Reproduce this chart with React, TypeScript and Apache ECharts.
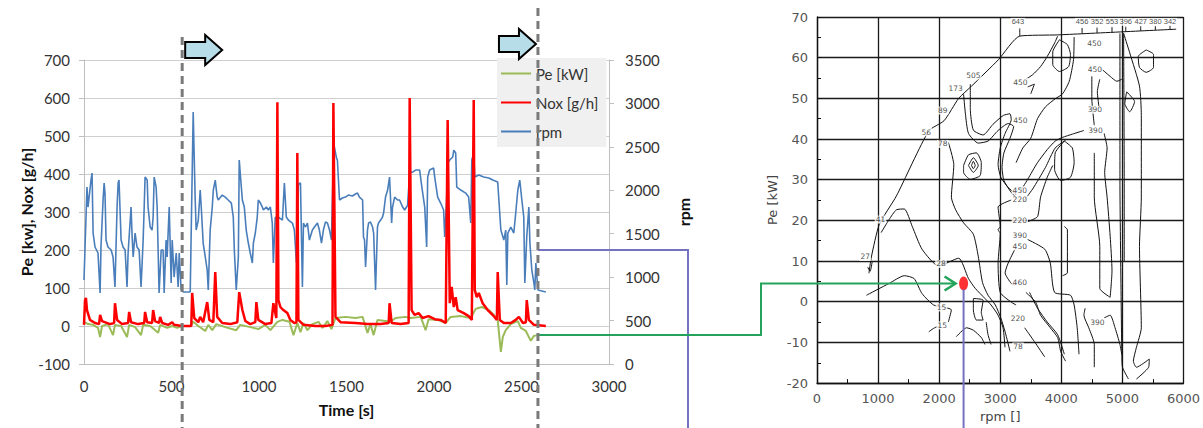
import React, { useEffect, useRef } from "react";
import * as echarts from "echarts";

// ---------- Left chart: time series (time [s], value) ----------
const rpmData: number[][] = [
  [0,967],[17,2037],[23,1807],[40,2118],[46,2198],[52,1508],[63,1347],[80,1278],[92,817],[97,1347],[109,1888],[115,2083],[120,1968],[126,1427],[137,1347],[155,1312],[166,1232],[177,886],[189,1807],[195,2083],[200,2118],[212,1427],[223,1347],[235,1312],[246,886],[252,1278],[269,1807],[275,1462],[281,1232],[292,1508],[303,1347],[315,1312],[326,886],[338,1427],[344,1807],[349,2152],[361,2118],[366,1807],[378,1577],[389,1542],[395,1692],[401,2152],[412,2037],[418,1807],[429,817],[441,1312],[452,1312],[458,817],[469,1427],[475,1232],[487,1807],[498,932],[504,1427],[515,1001],[527,1278],[538,886],[544,1278],[555,852],[567,829],[607,829],
  [624,2900],[635,1922],[641,1542],[653,1657],[664,2003],[670,1807],[681,1393],[693,1232],[704,1082],[710,852],[721,1542],[733,1807],[739,2003],[750,2118],[761,1922],[767,1888],[790,1945],[807,1922],[824,1888],[842,1853],[853,1692],[859,1312],[870,852],[882,1232],[887,2348],[899,2037],[905,1888],[916,1807],[927,1542],[939,1393],[950,1278],[962,1163],[968,1393],[979,1508],[990,1692],[996,1888],[1008,1853],[1019,1807],[1025,1773],[1042,1807],[1053,1773],[1065,1807],[1076,1623],[1082,1163],[1093,1692],[1105,1657],[1111,1692],[1134,1657],[1145,2083],[1156,1692],[1168,1657],[1191,1623],[1202,1542],[1214,1163],[1225,2072],[1237,2083],[1248,886],[1254,1623],[1265,1577],[1277,1623],[1288,1427],[1305,1542],[1317,1577],[1334,1623],[1345,1542],[1357,1393],[1368,1542],[1380,1634],[1391,1623],[1403,1542],[1414,1427],
  [1425,2383],[1431,2498],[1443,2371],[1448,2348],[1460,1888],[1477,1911],[1494,1922],[1511,1945],[1534,1934],[1551,1957],[1563,1968],[1574,1922],[1592,1888],[1597,1462],[1603,1427],[1609,1116],[1620,1542],[1626,1623],[1637,1634],[1649,1577],[1655,1508],[1666,852],[1677,1577],[1683,1623],[1695,1657],[1706,1692],[1712,1738],[1723,1922],[1735,2003],[1746,2152],[1758,1623],[1763,1807],[1775,1922],[1792,1888],[1803,1888],[1821,1807],[1832,1773],[1843,1807],[1849,1830],
  [1861,2198],[1878,2210],[1895,2233],[1918,2233],[1929,2060],[1947,1807],[1958,1347],[1964,2152],[1975,2233],[1998,2256],[2004,2152],[2021,1922],[2038,1853],[2055,1773],[2061,1462],[2072,1888],[2078,2314],[2090,2348],[2107,2383],[2113,2463],[2124,2429],[2130,2037],[2153,2003],[2181,1968],[2198,1922],[2210,1623],[2216,2348],[2227,2429],[2233,2152],[2256,2175],[2284,2152],[2313,2141],[2336,2118],[2364,2095],[2382,1542],[2399,1427],[2410,1542],[2416,909],[2422,1508],[2439,1577],[2456,1508],[2467,1738],[2479,2003],[2490,2118],[2502,1888],[2513,1692],[2519,932],[2530,1462],[2542,1807],[2548,1393],[2559,1082],[2571,932],[2576,852],[2582,1163],[2594,852],[2639,829]
];

const noxData: number[][] = [
  [0,3],[6,68],[11,74],[17,42],[34,16],[63,8],[86,5],[92,29],[103,13],[149,5],[172,8],[177,60],[189,16],[218,5],[252,8],[258,37],[269,10],[309,5],[344,8],[349,37],[361,10],[389,8],[395,42],[406,13],[429,8],[435,24],[447,8],[481,3],[504,10],[515,3],[561,0],[613,0],
  [618,87],[630,21],[653,10],[664,24],[681,10],[704,63],[716,16],[739,10],[750,142],[761,24],[790,8],[836,5],[876,10],[887,89],[905,42],[922,13],[950,5],[979,10],[985,63],[996,16],[1036,5],[1071,8],[1082,60],[1099,21],[1105,589],[1111,68],[1122,50],[1139,42],[1162,34],[1179,16],[1202,8],[1214,10],[1219,455],[1225,16],[1254,3],[1322,0],[1380,0],[1420,3],
  [1425,587],[1437,24],[1466,10],[1551,8],[1620,5],[1695,5],[1741,8],[1746,60],[1758,8],[1809,5],[1855,8],[1861,600],[1872,42],[1889,29],[1912,34],[1935,21],[1969,26],[2004,18],[2038,16],[2067,8],[2078,542],[2090,60],[2101,103],[2113,50],[2124,76],[2135,42],[2170,34],[2198,26],[2216,16],[2227,595],[2233,95],[2244,76],[2256,87],[2278,60],[2307,42],[2336,29],[2359,16],[2364,142],[2376,16],[2399,8],[2439,8],[2467,16],[2485,24],[2508,8],[2525,10],[2530,68],[2542,16],[2571,3],[2639,0]
];

const peData: number[][] = [
  [0,11],[23,5],[52,3],[80,-5],[92,-29],[103,0],[137,5],[166,-24],[177,3],[212,0],[246,-29],[258,3],[292,-3],[326,-24],[338,3],[378,0],[424,-18],[435,3],[475,-5],[504,0],[532,-5],[561,0],[607,0],
  [624,11],[653,0],[693,-13],[710,3],[733,-11],[756,5],[807,-3],[870,-11],[893,3],[950,-3],[996,-8],[1036,3],[1065,-11],[1105,11],[1134,16],[1174,11],[1197,-24],[1219,8],[1237,-16],[1254,8],[1277,-11],[1305,5],[1340,11],[1363,-5],[1391,13],[1414,-8],
  [1437,21],[1494,24],[1551,21],[1592,24],[1620,-18],[1637,5],[1655,-24],[1677,16],[1723,13],[1752,11],[1780,21],[1838,24],[1867,21],[1924,24],[1952,-11],[1969,18],[2021,16],[2067,8],[2095,24],[2153,26],[2210,21],[2238,45],[2273,50],[2313,42],[2342,29],[2364,16],[2382,-68],[2393,-29],[2410,-11],[2439,5],[2479,13],[2496,-5],[2525,-13],[2553,-39],[2571,-26],[2594,-24]
];

// marker times (dashed lines) and connector levels
const markerTimes = [561, 2594];
const connectorRpm = 1312;
const connectorPe = -24;

// ---------- Right chart: engine map (rpm, Pe [kW]) ----------
const operatingPoint = [2400, 4.5];

const cFullLoad = [[850,7],[890,11],[1020,19],[1300,26],[1830,42],[2080,44.5],[2320,50],[2530,53],[2970,59.5],[3320,65.3],[3940,65.6],[5880,67]];
const c28 = [[1050,17],[1180,20.2],[1300,22.6],[1430,22.8],[1560,18.5],[1720,12.9],[1990,8.8],[2320,10.7],[2480,5.7],[2590,3.3],[2750,0.8],[2850,-0.8],[2965,-3.3],[3046,-6.4],[3078,-11.2]];
const c78 = [[2150,39.2],[2240,33.7],[2200,25.7],[2270,22.6],[2400,19.4],[2560,16.6],[2640,11.2],[2710,4.7],[2800,1.6],[2920,-0.8],[3010,-4],[3080,-7.4],[3160,-12.2]];
const c15 = [[810,1.6],[1180,4.5],[1430,6.4],[1590,5.7],[1720,2],[1910,-0.8],[2200,-2],[2150,-5]];
const c15b = [[1830,-7.4],[1960,-6.2],[2040,-6.4]];
const cArc = [[2280,-8.6],[2450,-6.4],[2560,-7],[2690,-8.8],[2750,-10.5]];
const cLoopSmall = [[2560,0.8],[2720,0.4],[2690,-2.7],[2720,-4.5],[2610,-4.5],[2560,-2],[2560,0.8]];
const cE = [[2770,-5],[2800,-8.1],[2850,-10.5]];
const c33a = [[2400,33.5],[2480,36.1],[2610,36.6],[2690,34.2],[2670,31],[2510,30.1],[2400,31.8],[2400,33.5]];
const c33b = [[2480,33.5],[2560,35.4],[2640,33.5],[2560,31.8],[2480,33.5]];
const c33c = [[2530,33.5],[2560,34.5],[2590,33.5],[2560,32.7],[2530,33.5]];
const c505 = [[2510,53.5],[2510,47.5],[2560,42.2],[2720,41],[2880,43.6],[3050,45.8],[3160,46.2],[3180,44.8],[3080,41.4],[3000,37.8],[2965,33.7],[3010,30.6],[3130,28.1],[3260,26.4]];
const c173 = [[2400,51],[2430,46.2],[2480,41.4],[2640,39],[2800,39.5],[2965,42.1],[3130,43.8],[3220,43.1],[3160,40.2],[3060,36.6],[3030,33],[3060,29.8],[3180,26.9],[3290,25.2]];
const c450top = [[3940,65.3],[3890,63.6],[3770,60.3],[3660,57.8],[3530,55.8],[3420,54.7]];
const cHook = [[3450,52.8],[3560,53.5],[3500,51.1]];
const cOval1 = [[3970,64.4],[4100,63.2],[4150,60.8],[4120,57.8],[3970,56.6],[3860,58.3],[3860,61.4],[3970,64.4]];
const cLong = [[4210,65.1],[4200,59.5],[4130,54.2],[4020,51.1],[3900,49.9],[3740,47.9],[3610,45],[3500,40.2],[3370,37.8],[3260,34.2]];
const cBig1 = [[3320,26.9],[3450,30.1],[3610,34.2],[3770,37.4],[3900,39.5],[4020,40.4],[4180,41.2],[4370,42.1]];
const cBig2 = [[3370,24.5],[3530,27.7],[3740,33],[3900,37.8],[4070,39.7]];
const cOval2 = [[4050,39.5],[4180,37.8],[4210,34.2],[4150,30.6],[3990,29.8],[3890,32.5],[3900,36.6],[4050,39.5]];
const cV390 = [[4500,55.4],[4500,49.9],[4540,43.4]];
const c450r = [[4630,57.6],[4800,55.4],[4910,54.2],[4990,54.7]];
const c450r2 = [[4630,54.7],[4590,51.6],[4620,47.5]];
const cV1 = [[4540,36.6],[4540,25.7],[4630,13.6],[4630,3.3],[4800,1.1]];
const cV2 = [[4700,41.4],[4750,37.8],[4710,31.8],[4750,25.7],[4800,16.1],[4830,7.6],[4800,1.1]];
const cV3 = [[4960,66],[4960,30],[4980,0],[4990,-12],[5000,-16],[5100,-19]];
const cV4 = [[5020,66],[5030,30],[5030,10]];
const cRight = [[5020,66],[5120,61.2],[5280,53],[5310,45.8],[5310,25.7],[5280,13.6],[5310,-6.4],[5230,-11.2],[5180,-14.6],[5230,-16.1],[5440,-14.1],[5430,-16.1],[5230,-19]];
const cOval3 = [[5390,61.9],[5510,60.8],[5510,57.6],[5390,56.4],[5280,57.6],[5260,60.3],[5390,61.9]];
const cDiamond = [[5070,51.6],[5200,49.2],[5120,46.7],[5040,48.7],[5070,51.6]];
const c220b = [[3450,19.7],[3610,20.9],[3660,25.7],[3770,30.6],[3860,33.5]];
const c390450 = [[3240,12.9],[3130,9.5],[3080,7.1],[3180,4.5],[3240,4]];
const cD1 = [[3180,25],[2965,23.3],[3000,18.5],[2965,17.7],[3000,16.8],[2965,9.5],[3000,2.3],[3180,-0.1],[3260,-0.8]];
const cD2 = [[3450,15.3],[3730,12.9],[3820,9.5],[3890,2.3],[4150,1.6],[4210,-0.8],[4260,-6.4],[4290,-12.9]];
const cD3 = [[3420,2.3],[3580,-0.1],[3660,-3.3],[3820,-6.4],[3940,-8.8],[3990,-12.2],[4070,-14.6]];
const cD4 = [[3480,2.3],[3610,-1.6],[3770,-5],[3940,-8.1],[4050,-12.9]];
const cD5 = [[3400,-6.4],[3560,-9.8],[3730,-13.6]];
const cParen = [[4050,18.5],[4100,17.7],[4100,7.1],[4020,6.4]];
const c390r1 = [[4390,-1.6],[4370,-3.3],[4450,-6.4],[4540,-10.5],[4540,-16.1]];
const c390r2 = [[4700,-4],[4800,-3.3],[4880,-6.4],[4960,-10.5],[4990,-12.9]];
const cYmark = [[830,8.5],[870,7.5],[905,10]];
const leaders = [
  [[3320,65.3],[3320,67.2]],[[4340,65.9],[4340,67.3]],[[4585,66.1],[4585,67.4]],[[4830,66.2],[4830,67.5]],
  [[5055,66.4],[5055,67.6]],[[5300,66.6],[5300,67.7]],[[5540,66.8],[5540,67.8]],[[5780,66.95],[5780,67.9]]
];

const contours = [
  cFullLoad, c28, c78, c15, c15b, cArc, cLoopSmall, cE, c33a, c33b, c33c, c505, c173, c450top, cHook,
  cOval1, cLong, cBig1, cBig2, cOval2, cV390, c450r, c450r2, cV1, cV2, cV3, cV4, cRight, cOval3, cDiamond,
  c220b, c390450, cD1, cD2, cD3, cD4, cD5, cParen, c390r1, c390r2, cYmark, ...leaders
];

const topLabelText = ["643","456","352","553","396","427","380","342"];
const topLabelRpm = [3290,4340,4585,4830,5055,5300,5540,5780];
const topLabelPe = [68.8,68.8,68.8,68.8,68.8,68.8,68.8,68.8];

const contourLabelText = ["505","173","89","56","78","41","27","28","15","15","450","450","450","450","390","390","450","220","220","390","450","460","220","78","390"];
const contourLabelRpm = [2560,2270,2060,1790,2060,1040,790,2030,2040,2050,3330,4540,4550,3330,4550,4560,3320,3320,3320,3320,3320,3320,3290,3290,4590];
const contourLabelPe = [55.6,52.3,47,41.7,38.8,20.2,11,9.3,-1.4,-5.8,54,63.6,57,44.6,47.2,42.1,27.4,25.1,20,16.4,13.6,4.7,-4.2,-11,-5];

const leftFont = "Lato, 'Open Sans', sans-serif";
const mapFont = "'DejaVu Sans', sans-serif";
const plain = (v: number) => String(v);

export default function App() {
  const ref = useRef<HTMLDivElement>(null);

  useEffect(() => {
    const chart = echarts.init(ref.current as HTMLDivElement, null, { renderer: "svg" });

    const contourSeries = contours.map((c) => ({
      type: "line",
      xAxisIndex: 1,
      yAxisIndex: 2,
      data: c,
      symbol: "none",
      showSymbol: false,
      smooth: 0.2,
      silent: true,
      lineStyle: { color: "#111", width: 1 },
      z: 3,
    }));

    const mkLabels = (txt: string[], rpm: number[], pe: number[], font: string, size: number) => ({
      type: "scatter",
      xAxisIndex: 1,
      yAxisIndex: 2,
      symbolSize: 0,
      silent: true,
      z: 5,
      data: txt.map((t, i) => ({ name: t, value: [rpm[i], pe[i]] })),
      label: {
        show: true,
        position: "inside",
        formatter: "{b}",
        fontSize: size,
        fontFamily: font,
        color: "#222",
        backgroundColor: "#fff",
        padding: [0, 1],
      },
    });

    const option: any = {
      animation: false,
      backgroundColor: "#fff",
      grid: [
        { left: 84, top: 60, width: 525, height: 304 },
        { left: 817, top: 17, width: 370, height: 372 },
      ],
      legend: {
        data: ["Pe [kW]", "Nox [g/h]", "rpm"],
        orient: "vertical",
        left: 497,
        top: 58,
        backgroundColor: "#f0f0f0",
        padding: [8, 8, 8, 3],
        itemGap: 14,
        itemWidth: 30,
        itemHeight: 16,
        itemStyle: { opacity: 0 },
        textStyle: { fontFamily: leftFont, fontSize: 15, color: "#333" },
      },
      xAxis: [
        {
          type: "value", gridIndex: 0, min: 0, max: 3000, interval: 500,
          axisLine: { show: true, onZero: false, lineStyle: { color: "#bfbfbf", width: 1 } },
          axisTick: { show: false },
          splitLine: { show: false },
          axisLabel: { fontFamily: leftFont, fontSize: 15, color: "#333", margin: 14, formatter: plain },
          name: "Time [s]", nameLocation: "middle", nameGap: 37,
          nameTextStyle: { fontFamily: leftFont, fontSize: 16, fontWeight: "bold", color: "#111" },
        },
        {
          type: "value", gridIndex: 1, min: 0, max: 6000, interval: 1000,
          axisLine: { show: true, onZero: false, lineStyle: { color: "#111", width: 1.3 } },
          axisTick: { show: true, inside: true, length: 5, lineStyle: { color: "#111" } },
          minorTick: { show: true, splitNumber: 2, length: 4, lineStyle: { color: "#111" } },
          splitLine: { show: true, lineStyle: { color: "#1a1a1a", width: 1.3 } },
          axisLabel: { fontFamily: mapFont, fontSize: 13, color: "#555", margin: 9, formatter: plain },
          name: "rpm []", nameLocation: "middle", nameGap: 24,
          nameTextStyle: { fontFamily: mapFont, fontSize: 13, color: "#444" },
        },
      ],
      yAxis: [
        {
          type: "value", gridIndex: 0, min: -100, max: 700, interval: 100, position: "left",
          axisLine: { show: true, onZero: false, lineStyle: { color: "#bfbfbf" } },
          axisTick: { show: true, length: 5, lineStyle: { color: "#bfbfbf" } },
          splitLine: { show: true, lineStyle: { color: "#cfcfcf", width: 1 } },
          axisLabel: { fontFamily: leftFont, fontSize: 15, color: "#333", margin: 14, formatter: plain },
          name: "Pe [kw], Nox [g/h]", nameLocation: "middle", nameGap: 46, nameRotate: 90,
          nameTextStyle: { fontFamily: leftFont, fontSize: 16, fontWeight: "bold", color: "#111" },
        },
        {
          type: "value", gridIndex: 0, min: 0, max: 3500, interval: 500, position: "right",
          axisLine: { show: true, onZero: false, lineStyle: { color: "#bfbfbf" } },
          axisTick: { show: true, length: 5, lineStyle: { color: "#bfbfbf" } },
          splitLine: { show: false },
          axisLabel: { fontFamily: leftFont, fontSize: 15, color: "#333", margin: 16, formatter: plain },
          name: "rpm", nameLocation: "middle", nameGap: 66, nameRotate: 90,
          nameTextStyle: { fontFamily: leftFont, fontSize: 16, fontWeight: "bold", color: "#111" },
        },
        {
          type: "value", gridIndex: 1, min: -20, max: 70, interval: 10,
          axisLine: { show: true, onZero: false, lineStyle: { color: "#111", width: 1.3 } },
          axisTick: { show: true, inside: true, length: 5, lineStyle: { color: "#111" } },
          minorTick: { show: true, splitNumber: 2, length: 4, lineStyle: { color: "#111" } },
          splitLine: { show: true, lineStyle: { color: "#1a1a1a", width: 1.3 } },
          axisLabel: { fontFamily: mapFont, fontSize: 13, color: "#555", margin: 9, formatter: plain },
          name: "Pe [kW]", nameLocation: "middle", nameGap: 38, nameRotate: 90,
          nameTextStyle: { fontFamily: mapFont, fontSize: 13, color: "#444" },
        },
      ],
      series: [
        {
          name: "rpm", type: "line", xAxisIndex: 0, yAxisIndex: 1, data: rpmData,
          symbol: "none", showSymbol: false,
          lineStyle: { color: "#4a7ebb", width: 1.6 }, itemStyle: { color: "#4a7ebb" }, z: 2,
        },
        {
          name: "Pe [kW]", type: "line", xAxisIndex: 0, yAxisIndex: 0, data: peData,
          symbol: "none", showSymbol: false,
          lineStyle: { color: "#9bbb59", width: 2 }, itemStyle: { color: "#9bbb59" }, z: 3,
        },
        {
          name: "Nox [g/h]", type: "line", xAxisIndex: 0, yAxisIndex: 0, data: noxData,
          symbol: "none", showSymbol: false,
          lineStyle: { color: "#ff0000", width: 2.5 }, itemStyle: { color: "#ff0000" }, z: 4,
        },
        {
          name: "operating point", type: "scatter", xAxisIndex: 1, yAxisIndex: 2,
          data: [operatingPoint], symbol: "circle", symbolSize: [9, 14],
          itemStyle: { color: "#ff0000" }, z: 10, silent: true,
        },
        mkLabels(topLabelText, topLabelRpm, topLabelPe, "'Liberation Sans', sans-serif", 7.5),
        mkLabels(contourLabelText, contourLabelRpm, contourLabelPe, mapFont, 7.5),
        ...contourSeries,
      ],
    };

    chart.setOption(option);

    // annotation geometry derived from the axes
    const dashX = markerTimes.map((t) => (chart.convertToPixel({ seriesIndex: 2 }, [t, 0]) as number[])[0]);
    const purpleStart = chart.convertToPixel({ seriesIndex: 0 }, [markerTimes[1], connectorRpm]) as number[];
    const greenStart = chart.convertToPixel({ seriesIndex: 1 }, [markerTimes[1], connectorPe]) as number[];
    const dot = chart.convertToPixel({ seriesIndex: 3 }, operatingPoint) as number[];

    const arrow = (tailX: number, cy: number) => ({
      type: "polygon",
      z: 100,
      shape: {
        points: [
          [tailX, cy - 8], [tailX + 20, cy - 8], [tailX + 20, cy - 15], [tailX + 37, cy],
          [tailX + 20, cy + 15], [tailX + 20, cy + 8], [tailX, cy + 8],
        ],
      },
      style: { fill: "#b7dde8", stroke: "#000", lineWidth: 2 },
    });

    const purple = "#7672c2";
    const green = "#24a35a";
    const purpleCornerX = 688;
    const greenCornerX = 761;

    chart.setOption({
      graphic: [
        { type: "line", z: 100, shape: { x1: dashX[0], y1: 37, x2: dashX[0], y2: 428 }, style: { stroke: "#7a7a7a", lineWidth: 3, lineDash: [8, 5] } },
        { type: "line", z: 100, shape: { x1: dashX[1], y1: 8, x2: dashX[1], y2: 428 }, style: { stroke: "#7a7a7a", lineWidth: 3, lineDash: [8, 5] } },
        arrow(dashX[0] + 3, 50),
        arrow(dashX[1] - 39, 44),
        {
          type: "polyline", z: 50,
          shape: { points: [[purpleStart[0], purpleStart[1]], [purpleCornerX, purpleStart[1]], [purpleCornerX, 428]] },
          style: { stroke: purple, lineWidth: 2, fill: null },
        },
        {
          type: "line", z: 50,
          shape: { x1: dot[0], y1: dot[1] + 6, x2: dot[0], y2: 428 },
          style: { stroke: purple, lineWidth: 2 },
        },
        {
          type: "polyline", z: 50,
          shape: { points: [[greenStart[0], greenStart[1]], [greenCornerX, greenStart[1]], [greenCornerX, dot[1]], [dot[0] - 8, dot[1]]] },
          style: { stroke: green, lineWidth: 2, fill: null },
        },
        {
          type: "polyline", z: 50,
          shape: { points: [[dot[0] - 19, dot[1] - 7], [dot[0] - 8, dot[1]], [dot[0] - 19, dot[1] + 7]] },
          style: { stroke: green, lineWidth: 2.5, fill: null },
        },
      ],
    });

    return () => chart.dispose();
  }, []);

  return (
    <div
      ref={ref}
      style={{ position: "absolute", left: 0, top: 0, width: 1203, height: 428, background: "#fff" }}
    />
  );
}
